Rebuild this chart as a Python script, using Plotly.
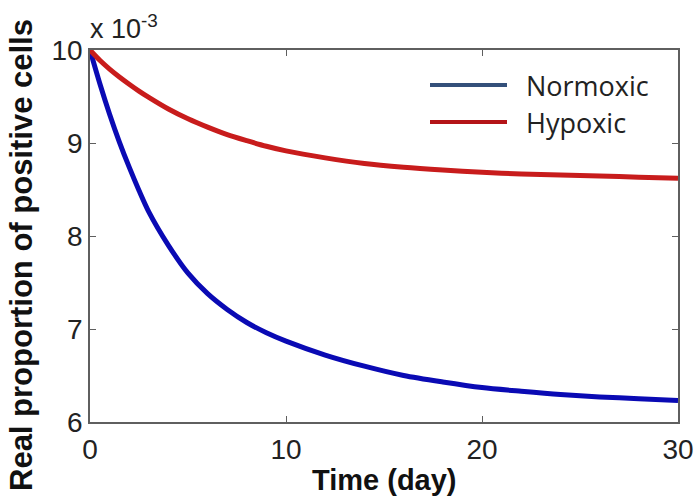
import plotly.graph_objects as go

# Data (values in units of 1e-3)
time_days = [0, 0.5, 1, 1.5, 2, 2.5, 3, 4, 5, 6, 7, 8, 9, 10, 12, 14, 16, 18, 20, 22, 24, 26, 28, 30]
normoxic = [10.0, 9.64, 9.31, 9.01, 8.74, 8.49, 8.26, 7.90, 7.60, 7.38, 7.21, 7.07, 6.96, 6.87,
            6.72, 6.60, 6.50, 6.43, 6.37, 6.33, 6.295, 6.27, 6.25, 6.23]
hypoxic = [10.0, 9.89, 9.795, 9.71, 9.632, 9.558, 9.49, 9.365, 9.26, 9.17, 9.09, 9.025, 8.965, 8.915,
           8.84, 8.78, 8.74, 8.71, 8.685, 8.668, 8.655, 8.645, 8.632, 8.62]

series_names = ["Normoxic", "Hypoxic"]
line_colors = ["rgb(10,10,180)", "rgb(200,28,28)"]
legend_colors = ["rgb(52,80,122)", "rgb(180,20,24)"]

x_ticks = [0, 10, 20, 30]
y_ticks = [6, 7, 8, 9, 10]

fig = go.Figure()
for name, ys, col in zip(series_names, [normoxic, hypoxic], line_colors):
    fig.add_trace(go.Scatter(x=time_days, y=ys, mode="lines", name=name,
                             line=dict(color=col, width=5, shape="spline", smoothing=0.8),
                             showlegend=False))

axis_common = dict(showline=True, linecolor="rgb(95,95,95)", linewidth=1.5, mirror="ticks",
                   ticks="inside", ticklen=6, tickcolor="rgb(95,95,95)", showgrid=False,
                   zeroline=False, automargin=False,
                   tickfont=dict(family="Liberation Sans, Arial", size=28, color="#222"))

fig.update_xaxes(range=[0, 30], tickvals=x_ticks, ticktext=[str(v) for v in x_ticks],
                 ticklabelstandoff=2, **axis_common)
fig.update_yaxes(range=[6, 10], tickvals=y_ticks, ticktext=[str(v) for v in y_ticks],
                 ticklabelstandoff=0, **axis_common)

# Legend drawn manually (long lines, no box)
legend_y = [85, 122]
for name, col, yy in zip(series_names, legend_colors, legend_y):
    fig.add_shape(type="line", xref="paper", yref="paper",
                  x0=(430 - 90) / 588, x1=(507 - 90) / 588,
                  y0=(422 - yy) / 372, y1=(422 - yy) / 372,
                  line=dict(color=col, width=4))
    fig.add_annotation(text=name, xref="paper", yref="paper",
                       x=(524 - 90) / 588, y=(422 - yy) / 372, xanchor="left", yanchor="middle",
                       showarrow=False, font=dict(family="Open Sans", size=27, color="#222"))

# Axis labels and exponent
fig.add_annotation(text="<b>Real proportion of positive cells</b>", xref="paper", yref="paper",
                   x=(22 - 90) / 588, y=(422 - 255) / 372, textangle=-90,
                   xanchor="center", yanchor="middle", showarrow=False,
                   font=dict(family="Liberation Sans, Arial", size=31, color="#111"))
fig.add_annotation(text="<b>Time (day)</b>", xref="paper", yref="paper",
                   x=(384 - 90) / 588, y=(422 - 480) / 372, xanchor="center", yanchor="middle",
                   showarrow=False, font=dict(family="Liberation Sans, Arial", size=29, color="#111"))
fig.add_annotation(text="x 10<sup>-3</sup>", xref="paper", yref="paper",
                   x=(88 - 90) / 588, y=(422 - 27) / 372, xanchor="left", yanchor="middle",
                   showarrow=False, font=dict(family="Liberation Sans, Arial", size=27, color="#222"))

fig.update_layout(width=696, height=502, margin=dict(l=90, r=18, t=50, b=80),
                  paper_bgcolor="white", plot_bgcolor="white")

fig.write_html("out.html")
